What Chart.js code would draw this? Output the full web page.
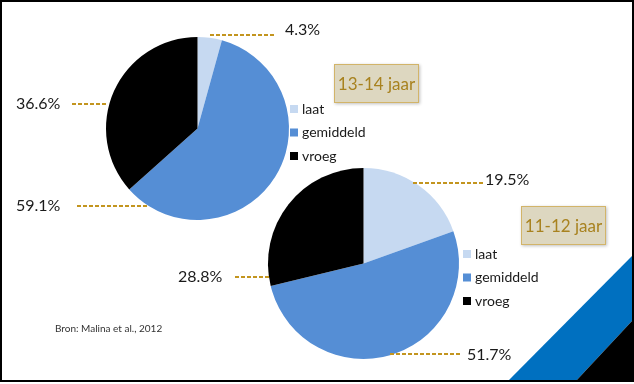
<!DOCTYPE html>
<html>
<head>
<meta charset="utf-8">
<script src="https://cdn.jsdelivr.net/npm/chart.js@4.4.0/dist/chart.umd.min.js"></script>
<style>
  html, body { margin: 0; padding: 0; background: #fff; overflow: hidden; }
  #slide { position: relative; width: 634px; height: 384px; font-family: Lato, sans-serif; }
  #slide canvas { position: absolute; left: 0; top: 0; }
  #frame { position: absolute; left: 0; top: 0; width: 634px; height: 382px; box-sizing: border-box; border: 2px solid #000; pointer-events: none; }
  #corner { position: absolute; left: 0; top: 0; }
</style>
</head>
<body>
<div id="slide">
  <svg id="corner" width="634" height="384">
    <polygon points="507,382 632,256 632,321 575,382" fill="#0070C0"/>
    <polygon points="575,382 632,321 632,382" fill="#000"/>
  </svg>
  <canvas id="pieTop" width="634" height="384"></canvas>
  <canvas id="pieBottom" width="634" height="384"></canvas>
  <div id="frame"></div>
</div>
<script>
// categories and values (percent)
const categories = ['laat', 'gemiddeld', 'vroeg'];
const values1314 = [4.3, 59.1, 36.6];
const values1112 = [19.5, 51.7, 28.8];
const groupTitles = ['13-14 jaar', '11-12 jaar'];
const sourceNote = 'Bron: Malina et al., 2012';

const sliceColors = ['#C6D9F1', '#558ED5', '#000000'];
const leaderColor = '#C3951F';
const titleColor = '#A8821F';

// label placement: leader line from x1 to x2 at y, text starting at tx
const layoutTop = {
  labels: [
    { x1: 210, x2: 276, y: 35, tx: 285, ty: 30 },
    { x1: 77, x2: 147, y: 206, tx: 16, ty: 206 },
    { x1: 72, x2: 107, y: 104, tx: 16, ty: 104 }
  ],
  legend: { x: 290, y: 109, step: 23.5 },
  box: { x: 334, y: 64, w: 85, h: 39 }
};
const layoutBottom = {
  labels: [
    { x1: 413, x2: 483, y: 183, tx: 485, ty: 180 },
    { x1: 390, x2: 460, y: 354, tx: 467, ty: 355 },
    { x1: 235, x2: 269, y: 277, tx: 178, ty: 277 }
  ],
  legend: { x: 463, y: 254, step: 23.5 },
  box: { x: 521, y: 206, w: 85, h: 39 },
  note: { x: 55, y: 329 }
};

const extrasPlugin = {
  id: 'extras',
  afterDraw(chart, args, opts) {
    const ctx = chart.ctx;
    const ds = chart.data.datasets[0];
    ctx.save();
    // leader lines and value labels
    opts.labels.forEach((l, i) => {
      ctx.strokeStyle = leaderColor;
      ctx.lineWidth = 2.2;
      ctx.setLineDash([4, 2]);
      ctx.beginPath();
      ctx.moveTo(l.x1, l.y);
      ctx.lineTo(l.x2, l.y);
      ctx.stroke();
      ctx.setLineDash([]);
      ctx.fillStyle = '#1a1a1a';
      ctx.font = '16px Lato';
      ctx.textAlign = 'left';
      ctx.textBaseline = 'middle';
      ctx.fillText(ds.data[i].toFixed(1) + '%', l.tx, l.ty);
    });
    // legend
    const lg = opts.legend;
    chart.data.labels.forEach((name, i) => {
      const y = lg.y + i * lg.step;
      ctx.fillStyle = ds.backgroundColor[i];
      ctx.fillRect(lg.x, y - 4, 8, 8);
      ctx.fillStyle = '#1a1a1a';
      ctx.font = '14px Lato';
      ctx.textBaseline = 'middle';
      ctx.fillText(name, lg.x + 12, y);
    });
    // title box
    const b = opts.box;
    ctx.shadowColor = 'rgba(0,0,0,0.25)';
    ctx.shadowBlur = 3;
    ctx.shadowOffsetX = 1;
    ctx.shadowOffsetY = 1;
    ctx.fillStyle = '#DDD7C0';
    ctx.fillRect(b.x, b.y, b.w, b.h);
    ctx.shadowColor = 'transparent';
    ctx.strokeStyle = '#D2B469';
    ctx.lineWidth = 1;
    ctx.strokeRect(b.x + 0.5, b.y + 0.5, b.w - 1, b.h - 1);
    ctx.fillStyle = titleColor;
    ctx.font = '17px Lato';
    ctx.textAlign = 'center';
    ctx.fillText(opts.title, b.x + b.w / 2, b.y + b.h / 2 + 1);
    // source note
    if (opts.note) {
      ctx.fillStyle = '#333';
      ctx.font = '10px Lato';
      ctx.textAlign = 'left';
      ctx.fillText(sourceNote, opts.note.x, opts.note.y);
    }
    ctx.restore();
  }
};

function makePie(id, values, padding, layout, title) {
  return new Chart(document.getElementById(id), {
    type: 'pie',
    data: {
      labels: categories,
      datasets: [{
        data: values,
        backgroundColor: sliceColors,
        borderWidth: 0,
        hoverOffset: 0
      }]
    },
    options: {
      responsive: false,
      animation: false,
      events: [],
      layout: { padding },
      plugins: {
        legend: { display: false },
        tooltip: { enabled: false },
        extras: Object.assign({ title }, layout)
      }
    },
    plugins: [extrasPlugin]
  });
}

makePie('pieTop', values1314, { left: 106, right: 345, top: 37, bottom: 164 }, layoutTop, groupTitles[0]);
makePie('pieBottom', values1112, { left: 268, right: 175, top: 168, bottom: 25 }, layoutBottom, groupTitles[1]);
</script>
</body>
</html>
